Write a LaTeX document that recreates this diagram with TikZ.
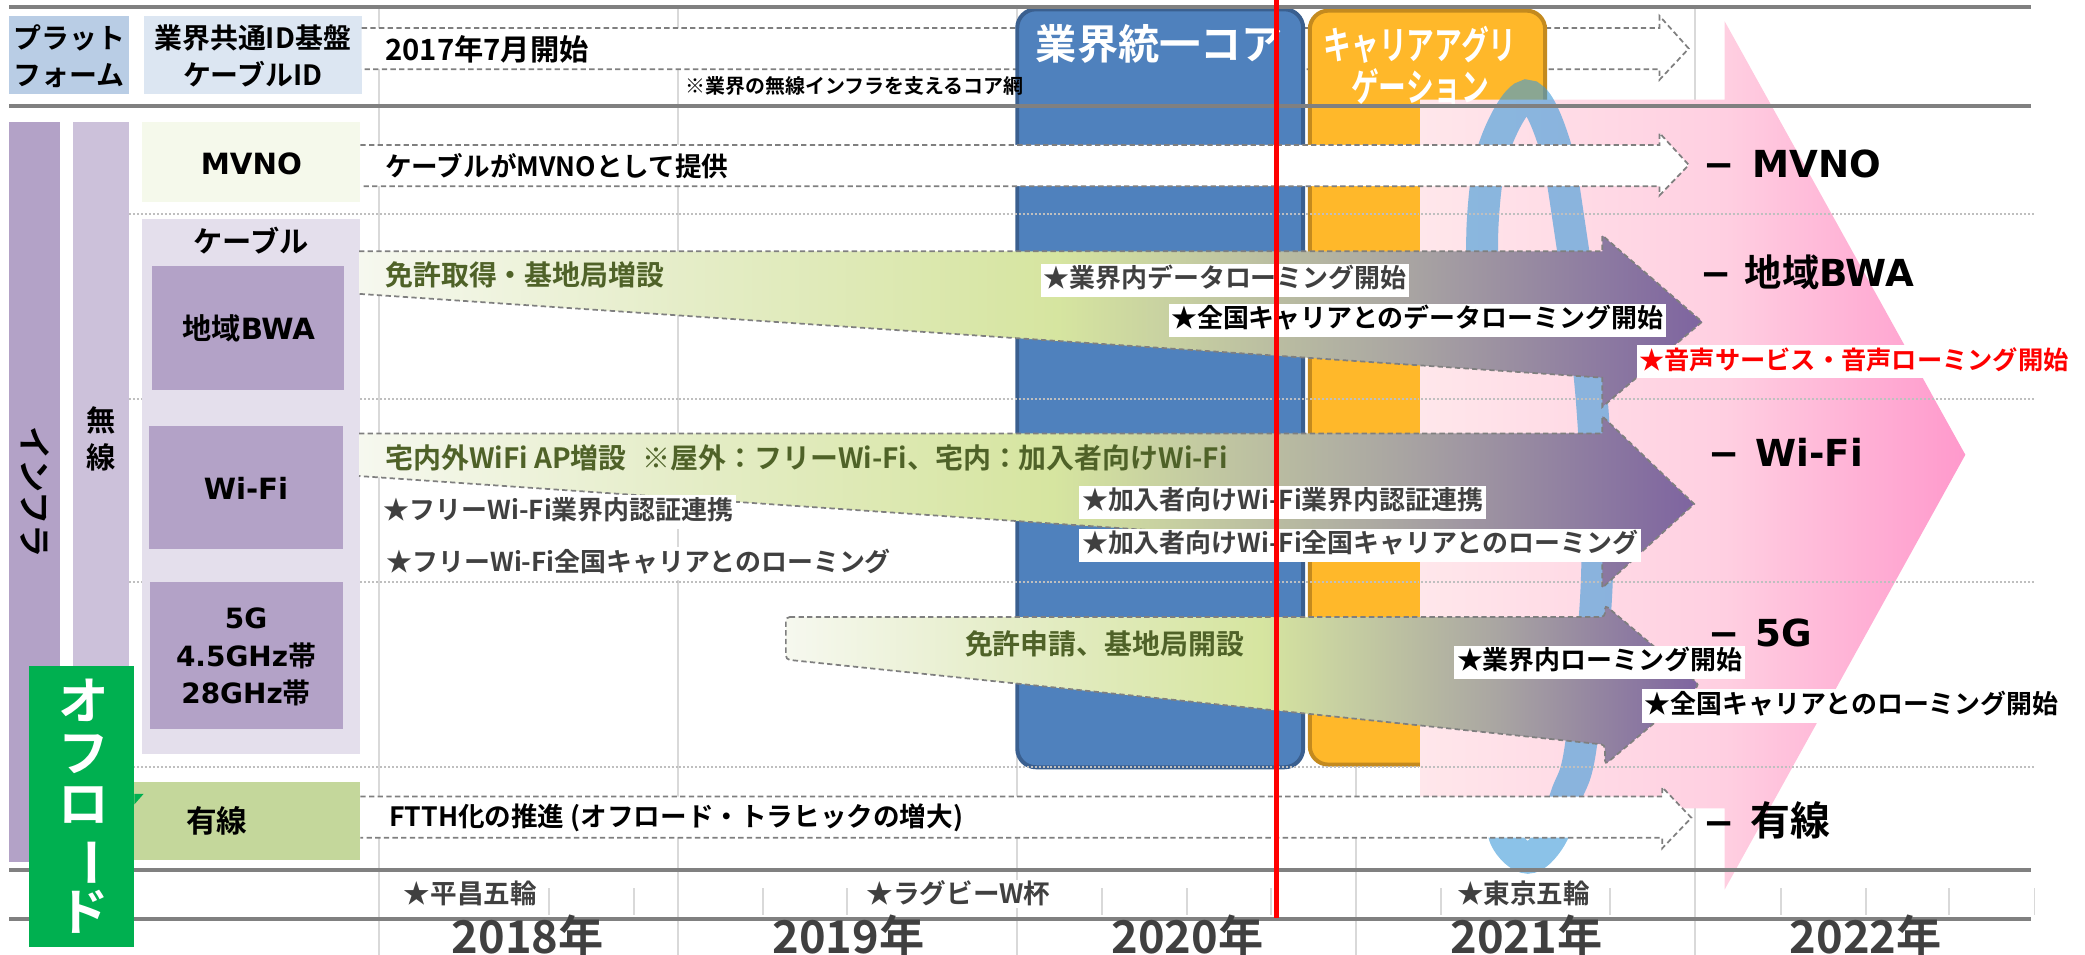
\documentclass[tikz,border=0pt]{standalone}
\usepackage{fontspec}
\setmainfont{Noto Sans CJK JP}[BoldFont={Noto Sans CJK JP Bold}]
\newfontfamily\vbfont{DejaVu Sans}[BoldFont={DejaVu Sans Bold}]
\newfontfamily\narrowjp{Noto Sans CJK JP}[BoldFont={Noto Sans CJK JP Bold}, FakeStretch=0.72]

\newlength{\du}
\setlength{\du}{1pt}

\definecolor{textgray}{rgb}{0.250000, 0.250000, 0.250000}
\definecolor{textolive}{rgb}{0.309804, 0.384314, 0.156863}
\definecolor{dashgray}{rgb}{0.498039, 0.498039, 0.498039}
\definecolor{loopblue}{rgb}{0.239216, 0.603922, 0.847059}
\definecolor{gradA}{rgb}{0.964706, 0.972549, 0.937255}
\definecolor{gradB}{rgb}{0.898039, 0.929412, 0.784314}
\definecolor{gradC}{rgb}{0.839216, 0.898039, 0.627451}
\definecolor{gradD}{rgb}{0.662745, 0.647059, 0.635294}
\definecolor{gradE}{rgb}{0.494118, 0.392157, 0.627451}
\definecolor{pinkA}{rgb}{1.000000, 0.905882, 0.921569}
\definecolor{pinkB}{rgb}{1.000000, 0.811765, 0.882353}
\definecolor{pinkC}{rgb}{1.000000, 0.600000, 0.800000}

\pgfdeclarehorizontalshading{roadmapgrad}{100bp}{color(0bp)=(gradA); color(25bp)=(gradA); color(37bp)=(gradB); color(51bp)=(gradC); color(64bp)=(gradD); color(75bp)=(gradE); color(100bp)=(gradE)}
\pgfdeclarehorizontalshading{pinkgrad}{100bp}{color(0bp)=(pinkA); color(25bp)=(pinkA); color(53bp)=(pinkB); color(75bp)=(pinkC); color(100bp)=(pinkC)}

\tikzset{
  boxtext/.style={inner sep=0pt, align=center, font=\bfseries\fontsize{21}{28}\selectfont},
  plaintext/.style={anchor=west, inner sep=0pt, font=\bfseries\fontsize{20}{24}\selectfont},
  ontext/.style={anchor=west, inner sep=0pt, text=textolive, font=\bfseries\fontsize{21}{24}\selectfont},
  startext/.style={anchor=west, fill=white, inner xsep=2\du, inner ysep=3\du, text height=15\du, text depth=4\du, font=\bfseries\fontsize{19.5}{22}\selectfont},
  goaltext/.style={anchor=west, inner sep=0pt, font=\bfseries\fontsize{28}{30}\selectfont},
  eventtext/.style={anchor=west, fill=white, inner sep=1\du, text=textgray, font=\bfseries\fontsize{20}{22}\selectfont},
  yeartext/.style={inner sep=0pt, text=textgray, font=\bfseries\fontsize{34}{36}\selectfont},
  dasharrow/.style={draw=dashgray, line width=1.3\du, dash pattern=on 4\du off 2.5\du},
}

\begin{document}
\begin{tikzpicture}
\pgftransformxscale{1.000000}
\pgftransformyscale{-1.000000}
\useasboundingbox (0\du,0\du) rectangle (1568\du,718\du);
% year grid
\pgfsetlinewidth{1.500000\du}
\pgfsetdash{}{0pt}
\definecolor{dialinecolor}{rgb}{0.850980, 0.850980, 0.850980}
\pgfsetstrokecolor{dialinecolor}
\draw (285\du,5\du)--(285\du,718\du);
\draw (510\du,5\du)--(510\du,718\du);
\draw (765\du,5\du)--(765\du,718\du);
\draw (1020\du,5\du)--(1020\du,718\du);
\draw (1275\du,5\du)--(1275\du,718\du);
% quarter ticks
\draw (413\du,668\du)--(413\du,688\du) (477\du,668\du)--(477\du,688\du)
      (574\du,668\du)--(574\du,688\du) (637\du,668\du)--(637\du,688\du)
      (829\du,668\du)--(829\du,688\du) (893\du,668\du)--(893\du,688\du)
      (956\du,668\du)--(956\du,688\du) (1084\du,668\du)--(1084\du,688\du)
      (1211\du,668\du)--(1211\du,688\du) (1339\du,668\du)--(1339\du,688\du)
      (1403\du,668\du)--(1403\du,688\du) (1466\du,668\du)--(1466\du,688\du)
      (1530\du,668\du)--(1530\du,688\du);
% header boxes
\definecolor{dialinecolor}{rgb}{0.725490, 0.803922, 0.898039}
\pgfsetfillcolor{dialinecolor}
\fill (7\du,12\du) rectangle (97\du,71\du);
\definecolor{dialinecolor}{rgb}{0.862745, 0.901961, 0.949020}
\pgfsetfillcolor{dialinecolor}
\fill (108\du,12\du) rectangle (272\du,71\du);
% header arrow
\fill[white] (272\du,21\du)--(1248\du,21\du)--(1248\du,12\du)--(1270\du,36.5\du)--(1248\du,60\du)--(1248\du,52\du)--(272\du,52\du)--cycle;
\draw[dasharrow] (272\du,21\du)--(1248\du,21\du)--(1248\du,12\du)--(1270\du,36.5\du)--(1248\du,60\du)--(1248\du,52\du)--(272\du,52\du);
% core box
\pgfsetlinewidth{3.000000\du}
\definecolor{dialinecolor}{rgb}{0.309804, 0.505882, 0.741176}
\pgfsetfillcolor{dialinecolor}
\definecolor{dialinecolor}{rgb}{0.227451, 0.372549, 0.560784}
\pgfsetstrokecolor{dialinecolor}
\filldraw[rounded corners=14\du] (765\du,7\du) rectangle (980\du,577\du);
% carrier aggregation box
\definecolor{dialinecolor}{rgb}{1.000000, 0.721569, 0.164706}
\pgfsetfillcolor{dialinecolor}
\definecolor{dialinecolor}{rgb}{0.768627, 0.541176, 0.117647}
\pgfsetstrokecolor{dialinecolor}
\filldraw[rounded corners=14\du] (985\du,8\du) rectangle (1162\du,575\du);
% big pink arrow
\shade[shading=pinkgrad] (1068\du,75\du)--(1297\du,75\du)--(1297\du,16\du)--(1478\du,342\du)--(1297\du,669\du)--(1297\du,608\du)--(1068\du,608\du)--cycle;
% blue loop
\draw[loopblue, opacity=0.6, line width=24\du] plot[smooth, tension=0.6] coordinates {(1116\du,250\du) (1115\du,168\du) (1124\du,110\du) (1148\du,72\du) (1168\du,105\du) (1180\du,168\du) (1197\du,300\du) (1201\du,433\du) (1189\du,560\du) (1178\du,598\du) (1166\du,630\du) (1149\du,645\du) (1132\du,630\du) (1129\du,600\du)};
% setfont left to latex
\node[inner sep=0pt, text=white, font=\bfseries\fontsize{31}{34}\selectfont] (coreTitle) at (872\du,33\du){業界統一コア};
\node[inner sep=0pt, align=center, text=white, font=\narrowjp\bfseries\fontsize{29}{32}\selectfont] (caTitle) at (1068\du,49\du){キャリアアグリ\\ゲーション};
% thick rules
\pgfsetlinewidth{3.000000\du}
\definecolor{dialinecolor}{rgb}{0.501961, 0.501961, 0.501961}
\pgfsetstrokecolor{dialinecolor}
\draw (7\du,5\du)--(1527\du,5\du);
\draw (7\du,80\du)--(1527\du,80\du);
\draw (7\du,654\du)--(1527\du,654\du);
\draw (7\du,691\du)--(1527\du,691\du);
% dotted rules
\pgfsetlinewidth{1.500000\du}
\pgfsetdash{{1.500000\du}{1.500000\du}}{0\du}
\definecolor{dialinecolor}{rgb}{0.749020, 0.749020, 0.749020}
\pgfsetstrokecolor{dialinecolor}
\draw (97\du,161\du)--(1530\du,161\du);
\draw (97\du,300\du)--(1530\du,300\du);
\draw (97\du,438\du)--(1530\du,438\du);
\draw (97\du,577\du)--(1530\du,577\du);
\pgfsetdash{}{0pt}
% left column
\definecolor{dialinecolor}{rgb}{0.701961, 0.635294, 0.780392}
\pgfsetfillcolor{dialinecolor}
\fill (7\du,92\du) rectangle (45\du,648\du);
\definecolor{dialinecolor}{rgb}{0.800000, 0.756863, 0.854902}
\pgfsetfillcolor{dialinecolor}
\fill (55\du,92\du) rectangle (97\du,567\du);
\definecolor{dialinecolor}{rgb}{0.960784, 0.976471, 0.921569}
\pgfsetfillcolor{dialinecolor}
\fill (107\du,92\du) rectangle (271\du,152\du);
\definecolor{dialinecolor}{rgb}{0.894118, 0.874510, 0.925490}
\pgfsetfillcolor{dialinecolor}
\fill (107\du,165\du) rectangle (271\du,567\du);
\definecolor{dialinecolor}{rgb}{0.701961, 0.635294, 0.780392}
\pgfsetfillcolor{dialinecolor}
\fill (114\du,200\du) rectangle (259\du,293\du);
\fill (112\du,320\du) rectangle (258\du,413\du);
\fill (113\du,438\du) rectangle (258\du,548\du);
\definecolor{dialinecolor}{rgb}{0.768627, 0.843137, 0.607843}
\pgfsetfillcolor{dialinecolor}
\fill (55\du,588\du) rectangle (271\du,647\du);
\definecolor{dialinecolor}{rgb}{0.000000, 0.690196, 0.313725}
\pgfsetfillcolor{dialinecolor}
\fill (22\du,501\du) rectangle (101\du,712\du);
\fill (101\du,597\du)--(108\du,597\du)--(101\du,605\du)--cycle;
% setfont left to latex
\node[boxtext] (platLbl) at (52\du,42\du){プラット\\フォーム};
\node[boxtext] (idLbl) at (190\du,42\du){業界共通ID基盤\\ケーブルID};
\node[inner sep=0pt, rotate=-90, font=\bfseries\fontsize{25}{28}\selectfont] (infraLbl) at (26\du,370\du){インフラ};
\node[boxtext, font=\bfseries\fontsize{22}{28}\selectfont] (musenLbl) at (76\du,330\du){無\\線};
\node[boxtext, font=\vbfont\bfseries\fontsize{22}{28}\selectfont] (mvnoLbl) at (189\du,123\du){MVNO};
\node[boxtext, font=\bfseries\fontsize{22}{28}\selectfont] (cableLbl) at (189\du,181\du){ケーブル};
\node[boxtext, font=\bfseries\fontsize{22}{28}\selectfont] (bwaLbl) at (187\du,247\du){地域{\vbfont BWA}};
\node[boxtext, font=\vbfont\bfseries\fontsize{22}{28}\selectfont] (wifiLbl) at (185\du,367\du){Wi-Fi};
\node[boxtext, font=\bfseries\fontsize{21}{28}\selectfont] (fiveGLbl) at (185\du,494\du){{\vbfont 5G}\\{\vbfont 4.5GHz}帯\\{\vbfont 28GHz}帯};
\node[boxtext, font=\bfseries\fontsize{23}{28}\selectfont] (yusenLbl) at (163\du,617\du){有線};
\node[boxtext, text=white, font=\bfseries\fontsize{38}{39}\selectfont] (offloadLbl) at (63\du,606\du){オ\\フ\\ロ\\\rotatebox[origin=c]{-90}{ー}\\ド};
% dashed white arrows
\fill[white] (271\du,109\du)--(1248\du,109\du)--(1248\du,100\du)--(1270\du,124\du)--(1248\du,147\du)--(1248\du,140\du)--(271\du,140\du)--cycle;
\draw[dasharrow] (271\du,109\du)--(1248\du,109\du)--(1248\du,100\du)--(1270\du,124\du)--(1248\du,147\du)--(1248\du,140\du)--(271\du,140\du);
\fill[white] (271\du,599\du)--(1250\du,599\du)--(1250\du,592\du)--(1272\du,615\du)--(1250\du,638\du)--(1250\du,630\du)--(271\du,630\du)--cycle;
\draw[dasharrow] (271\du,599\du)--(1250\du,599\du)--(1250\du,592\du)--(1272\du,615\du)--(1250\du,638\du)--(1250\du,630\du)--(271\du,630\du);
% gradient arrows
\shade[shading=roadmapgrad] (270\du,189\du)--(1205\du,189\du)--(1205\du,177\du)--(1280\du,242\du)--(1205\du,306\du)--(1205\du,284\du)--(270\du,221\du)--cycle;
\draw[dasharrow] (270\du,189\du)--(1205\du,189\du)--(1205\du,177\du)--(1280\du,242\du)--(1205\du,306\du)--(1205\du,284\du)--(270\du,221\du);
\shade[shading=roadmapgrad] (270\du,326\du)--(1205\du,326\du)--(1205\du,313\du)--(1274\du,379\du)--(1205\du,442\du)--(1205\du,422\du)--(270\du,358\du)--cycle;
\draw[dasharrow] (270\du,326\du)--(1205\du,326\du)--(1205\du,313\du)--(1274\du,379\du)--(1205\du,442\du)--(1205\du,422\du)--(270\du,358\du);
\shade[shading=roadmapgrad, rounded corners=3\du] (591\du,464\du)--(1207\du,464\du)--(1207\du,455\du)--(1278\du,515\du)--(1207\du,575\du)--(1207\du,560\du)--(591\du,496\du)--cycle;
\draw[dasharrow, rounded corners=3\du] (591\du,464\du)--(1207\du,464\du)--(1207\du,455\du)--(1278\du,515\du)--(1207\du,575\du)--(1207\du,560\du)--(591\du,496\du)--cycle;
% setfont left to latex
\node[plaintext, font=\bfseries\fontsize{22}{24}\selectfont] (startLbl) at (289\du,37\du){2017年7月開始};
\node[plaintext, font=\bfseries\fontsize{15}{18}\selectfont] (coreNote) at (515\du,65\du){※業界の無線インフラを支えるコア網};
\node[plaintext] (mvnoPlan) at (289\du,125\du){ケーブルがMVNOとして提供};
\node[plaintext] (ftthPlan) at (292\du,615\du){FTTH化の推進 (オフロード・トラヒックの増大)};
\node[ontext] (bwaPlan) at (289\du,207\du){免許取得・基地局増設};
\node[ontext] (wifiPlan) at (289\du,344\du){宅内外WiFi AP増設\hspace{12\du}※屋外：フリーWi-Fi、宅内：加入者向けWi-Fi};
\node[ontext] (fiveGPlan) at (725\du,484\du){免許申請、基地局開設};
% milestones
\node[startext, text=textgray] (bwaStepA) at (782\du,211\du){★業界内データローミング開始};
\node[startext] (bwaStepB) at (878\du,241\du){★全国キャリアとのデータローミング開始};
\node[startext, text=red, font=\bfseries\fontsize{19}{22}\selectfont] (voiceStep) at (1230\du,272\du){★音声サービス・音声ローミング開始};
\node[startext, text=textgray] (freeStepA) at (286\du,385\du){★フリーWi-Fi業界内認証連携};
\node[startext, text=textgray] (freeStepB) at (288\du,424\du){★フリーWi-Fi全国キャリアとのローミング};
\node[startext, text=textgray] (subStepA) at (811\du,378\du){★加入者向けWi-Fi業界内認証連携};
\node[startext, text=textgray] (subStepB) at (811\du,410\du){★加入者向けWi-Fi全国キャリアとのローミング};
\node[startext] (fiveGStepA) at (1093\du,498\du){★業界内ローミング開始};
\node[startext] (fiveGStepB) at (1234\du,531\du){★全国キャリアとのローミング開始};
% goals
\node[goaltext] (goalMvno) at (1280\du,123\du){{\vbfont −}\hspace{14\du}{\vbfont MVNO}};
\node[goaltext] (goalBwa) at (1278\du,205\du){{\vbfont −}\hspace{10\du}地域{\vbfont BWA}};
\node[goaltext] (goalWifi) at (1284\du,340\du){{\vbfont −}\hspace{12\du}{\vbfont Wi-Fi}};
\node[goaltext] (goalFiveG) at (1284\du,476\du){{\vbfont −}\hspace{12\du}{\vbfont 5G}};
\node[goaltext] (goalYusen) at (1280\du,617\du){{\vbfont −}\hspace{12\du}{\fontsize{30}{32}\selectfont 有線}};
% events and years
\node[eventtext] (eventPy) at (302\du,672\du){★平昌五輪};
\node[eventtext] (eventRwc) at (650\du,672\du){★ラグビーW杯};
\node[eventtext] (eventTokyo) at (1094\du,672\du){★東京五輪};
\node[yeartext] (year18) at (397\du,704\du){2018年};
\node[yeartext] (year19) at (638\du,704\du){2019年};
\node[yeartext] (year20) at (893\du,704\du){2020年};
\node[yeartext] (year21) at (1148\du,704\du){2021年};
\node[yeartext] (year22) at (1403\du,704\du){2022年};
% today
\pgfsetlinewidth{4.000000\du}
\definecolor{dialinecolor}{rgb}{1.000000, 0.000000, 0.000000}
\pgfsetstrokecolor{dialinecolor}
\draw (960\du,0\du)--(960\du,690\du);
\end{tikzpicture}
\end{document}
